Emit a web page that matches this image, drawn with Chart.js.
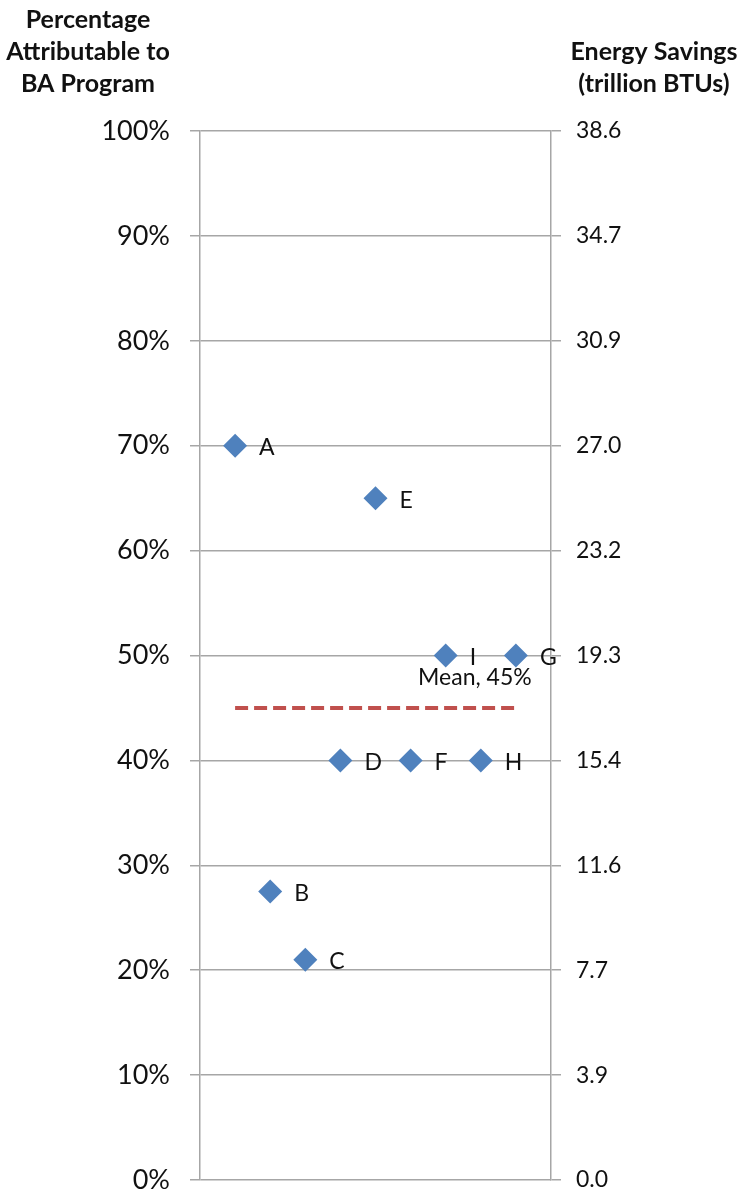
<!DOCTYPE html>
<html>
<head>
<meta charset="utf-8">
<script src="https://cdn.jsdelivr.net/npm/chart.js@4.4.1/dist/chart.umd.min.js"></script>
<style>
  html, body { margin: 0; padding: 0; background: #ffffff; }
  #wrap { width: 741px; height: 1192px; position: relative; }
</style>
</head>
<body>
<div id="wrap"><canvas id="chart"></canvas></div>
<script>
// Programs, their horizontal slot, and share attributable to BA (%)
const programs = ['A', 'B', 'C', 'D', 'E', 'F', 'I', 'H', 'G'];
const slots = [1, 2, 3, 4, 5, 6, 7, 8, 9];
const percentAttributable = [70, 27.5, 21, 40, 65, 40, 50, 40, 50];

// Mean line across the programs
const meanValue = 45;
const meanSpan = [1, 9];
const meanLabel = 'Mean, 45%';

// Axis labels
const leftTitle = ['Percentage', 'Attributable to', 'BA Program'];
const rightTitle = ['Energy Savings', '(trillion BTUs)'];
const rightTickLabels = ['0.0', '3.9', '7.7', '11.6', '15.4', '19.3', '23.2', '27.0', '30.9', '34.7', '38.6'];

const gridGray = '#a6a6a6';
const textColor = '#111111';

const pointData = slots.map((x, i) => ({ x: x, y: percentAttributable[i] }));
const meanData = meanSpan.map(x => ({ x: x, y: meanValue }));

// Letters beside each diamond, the mean label and the two axis titles
const annotations = {
  id: 'annotations',
  afterDatasetsDraw(chart) {
    const ctx = chart.ctx;
    const area = chart.chartArea;
    ctx.save();
    ctx.fillStyle = textColor;

    ctx.font = '23px Lato';
    ctx.textAlign = 'left';
    ctx.textBaseline = 'middle';
    chart.getDatasetMeta(1).data.forEach((pt, i) => {
      ctx.fillText(programs[i], pt.x + 24, pt.y + 2);
    });

    const meanPts = chart.getDatasetMeta(0).data;
    const last = meanPts[meanPts.length - 1];
    ctx.textAlign = 'center';
    ctx.fillText(meanLabel, last.x - 41, last.y - 30);

    ctx.font = 'bold 25px Lato';
    leftTitle.forEach((line, i) => {
      ctx.fillText(line, area.left - 112, 20 + i * 32);
    });
    rightTitle.forEach((line, i) => {
      ctx.fillText(line, area.right + 103, 52 + i * 32);
    });
    ctx.restore();
  }
};

new Chart(document.getElementById('chart'), {
  type: 'scatter',
  data: {
    datasets: [
      {
        type: 'line',
        label: meanLabel,
        data: meanData,
        borderColor: '#c0504d',
        borderWidth: 4,
        borderDash: [13, 6],
        pointRadius: 0,
        fill: false,
        yAxisID: 'y'
      },
      {
        label: 'Programs',
        data: pointData,
        pointStyle: 'rectRot',
        pointRadius: 12,
        pointHoverRadius: 12,
        backgroundColor: '#4f81bd',
        borderColor: '#4f81bd',
        borderWidth: 0,
        yAxisID: 'y'
      }
    ]
  },
  options: {
    responsive: true,
    maintainAspectRatio: false,
    animation: false,
    events: [],
    layout: { padding: { top: 131, bottom: 11, left: 0, right: 0 } },
    plugins: {
      legend: { display: false },
      tooltip: { enabled: false }
    },
    scales: {
      x: { type: 'linear', min: 0, max: 10, display: false },
      y: {
        position: 'left',
        min: 0,
        max: 100,
        ticks: {
          stepSize: 10,
          callback: v => v + '%',
          font: { family: 'Lato', size: 27 },
          color: textColor,
          padding: 20
        },
        grid: { color: gridGray, lineWidth: 1.5, tickLength: 10 },
        border: { display: true, color: gridGray, width: 1.5 },
        afterFit(scale) {
          scale.width = 200;
          scale.paddingTop = 0;
          scale.paddingBottom = 0;
        }
      },
      y2: {
        position: 'right',
        min: 0,
        max: 100,
        ticks: {
          stepSize: 10,
          callback: (v, i) => rightTickLabels[i],
          font: { family: 'Lato', size: 23 },
          color: textColor,
          padding: 15
        },
        grid: { drawOnChartArea: false, color: gridGray, lineWidth: 1.5, tickLength: 10 },
        border: { display: true, color: gridGray, width: 1.5 },
        afterFit(scale) {
          scale.width = 190;
          scale.paddingTop = 0;
          scale.paddingBottom = 0;
        }
      }
    }
  },
  plugins: [annotations]
});
</script>
</body>
</html>
